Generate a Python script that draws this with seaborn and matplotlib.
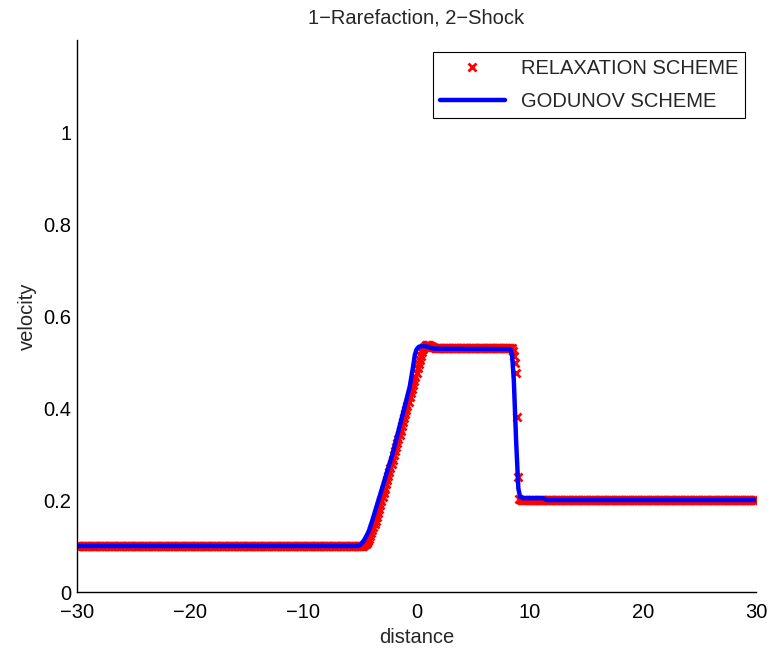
import numpy as np
import pandas as pd
import matplotlib
matplotlib.use("Agg")
import matplotlib.pyplot as plt
import seaborn as sns

# ---- data -------------------------------------------------------------
# Relaxation scheme: cell values on a uniform 0.1 grid over [-30, 30]
relax_left_x = np.round(np.arange(-30.0, -4.85, 0.1), 1)
relax_left_v = [0.100] * len(relax_left_x)

relax_fan_x = np.round(np.arange(-4.8, 1.55, 0.1), 1)
relax_fan_v = [0.100, 0.101, 0.102, 0.104, 0.107, 0.111, 0.116, 0.122, 0.128,
               0.135, 0.141, 0.148, 0.155, 0.162, 0.171, 0.180, 0.189, 0.198,
               0.207, 0.216, 0.225, 0.234, 0.243, 0.252, 0.261, 0.270, 0.279,
               0.288, 0.297, 0.306, 0.315, 0.324, 0.333, 0.342, 0.351, 0.360,
               0.369, 0.378, 0.387, 0.396, 0.405, 0.414, 0.423, 0.432, 0.441,
               0.450, 0.459, 0.468, 0.477, 0.486, 0.495, 0.504, 0.513, 0.521,
               0.528, 0.533, 0.536, 0.537, 0.537, 0.536, 0.535, 0.534, 0.533,
               0.532]

relax_mid_x = np.round(np.arange(1.6, 8.35, 0.1), 1)
relax_mid_v = [0.531] * len(relax_mid_x)

relax_shock_x = [8.4, 8.5, 8.6, 8.7, 8.8, 8.9, 9.0, 9.1]
relax_shock_v = [0.530, 0.525, 0.512, 0.498, 0.476, 0.380, 0.250, 0.203]

relax_right_x = np.round(np.arange(9.2, 30.05, 0.1), 1)
relax_right_v = [0.200] * len(relax_right_x)

# Godunov scheme: solution profile
godunov_x = [-30.0, -5.2, -5.0, -4.8, -4.6, -4.4, -4.2, -3.9, -2.1, -0.6,
             -0.3, -0.15, 0.0, 0.2, 0.6, 1.0, 1.5, 8.3, 8.45, 8.6, 8.8,
             9.0, 9.15, 9.4, 11.2, 11.5, 30.0]
godunov_v = [0.100, 0.100, 0.102, 0.107, 0.114, 0.123, 0.133, 0.156, 0.302,
             0.446, 0.490, 0.515, 0.527, 0.533, 0.535, 0.533, 0.529, 0.528,
             0.515, 0.460, 0.330, 0.225, 0.207, 0.204, 0.204, 0.200, 0.200]

x_ticks = [-30, -20, -10, 0, 10, 20, 30]
y_ticks = [0, 0.2, 0.4, 0.6, 0.8, 1]
y_tick_labels = ["0", "0.2", "0.4", "0.6", "0.8", "1"]

relax = pd.DataFrame({
    "distance": np.concatenate([relax_left_x, relax_fan_x, relax_mid_x,
                                relax_shock_x, relax_right_x]),
    "velocity": np.concatenate([relax_left_v, relax_fan_v, relax_mid_v,
                                relax_shock_v, relax_right_v]),
})
godunov = pd.DataFrame({"distance": godunov_x, "velocity": godunov_v})

# ---- styling ----------------------------------------------------------
sns.set_theme(style="white")
plt.rcParams["font.family"] = ["Liberation Sans", "DejaVu Sans"]
plt.rcParams["axes.unicode_minus"] = True

fig = plt.figure(figsize=(7.69, 6.49), dpi=100)
ax = fig.add_axes([77 / 769, 1 - 592 / 649, (756 - 77) / 769, (592 - 40) / 649])

sns.lineplot(data=relax, x="distance", y="velocity", ax=ax, estimator=None,
             sort=False, color="red", linestyle="none", marker="x",
             markersize=5.8, markeredgewidth=2.0, markeredgecolor="red",
             label="RELAXATION SCHEME")
sns.lineplot(data=godunov, x="distance", y="velocity", ax=ax, estimator=None,
             sort=False, color="#0000ff", linewidth=3.2, label="GODUNOV SCHEME")

ax.set_xlim(-30, 30)
ax.set_ylim(0, 1.2)
ax.set_xticks(x_ticks)
ax.set_yticks(y_ticks)
ax.set_yticklabels(y_tick_labels)

fs = 14.5
ax.tick_params(direction="in", length=6, width=1, labelsize=fs,
               colors="black")
ax.tick_params(axis="x", pad=8)
ax.tick_params(axis="y", pad=4)
for side in ("top", "right"):
    ax.spines[side].set_visible(False)
for side in ("left", "bottom"):
    ax.spines[side].set_color("black")
    ax.spines[side].set_linewidth(1)

ax.set_xlabel("distance", fontsize=fs, labelpad=4)
ax.set_ylabel("velocity", fontsize=fs, labelpad=5)
ax.set_title("1\u2212Rarefaction, 2\u2212Shock", fontsize=fs, pad=12)

leg = ax.legend(loc="upper right", fontsize=fs, frameon=True, fancybox=False,
                edgecolor="black", framealpha=1, handlelength=3.2,
                labelspacing=0.7, borderpad=0.35, borderaxespad=0,
                bbox_to_anchor=(0.984, 0.978))
leg.get_frame().set_linewidth(0.8)

fig.savefig("out.png", dpi=100)
